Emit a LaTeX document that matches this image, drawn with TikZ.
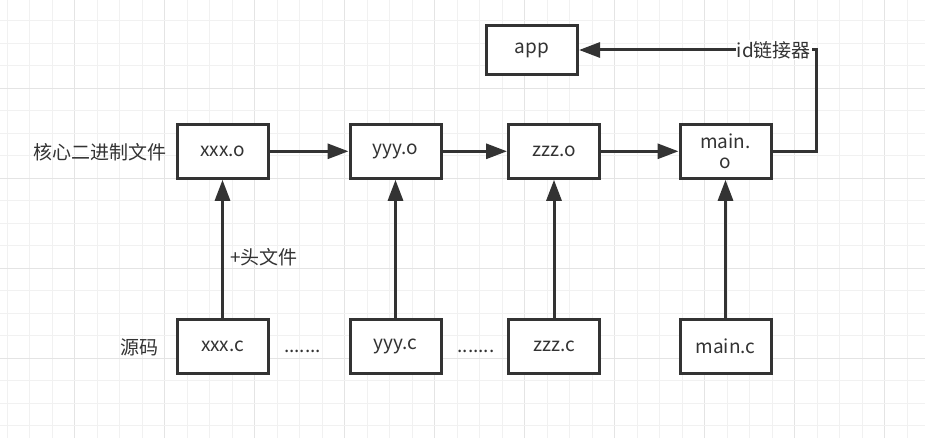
\documentclass[tikz,border=0pt]{standalone}
\usepackage{fontspec}
\setmainfont{Noto Sans CJK SC}
\usetikzlibrary{arrows.meta,positioning}
\definecolor{ink}{HTML}{333333}
\definecolor{gridminor}{HTML}{F1F1F1}
\definecolor{gridmajor}{HTML}{E4E4E4}

\begin{document}
\begin{tikzpicture}
[x=1pt,y=-1pt,>={Triangle[length=21pt,width=15pt]},
box/.style={draw=ink,fill=white,line width=3pt,minimum width=91pt,minimum height=54pt,inner sep=0pt,text=ink,align=center},
conn/.style={draw=ink,line width=3pt},
tag/.style={text=ink,inner sep=1pt},]

%Sizes
\def\fs{\fontsize{19pt}{22pt}\selectfont}
\def\rowo{151.3}
\def\rowc{346.3}

%Background grid
\useasboundingbox (0,0) rectangle (925,438);
\fill[white] (0,0) rectangle (925,438);
\foreach \k in {0,...,40} {
  \pgfmathsetmacro\gx{7.3+22.5*\k}
  \pgfmathtruncatemacro\m{mod(\k,4)}
  \ifnum\m=3 \draw[gridmajor,line width=1pt] (\gx,0) -- (\gx,438);
  \else \draw[gridminor,line width=1pt] (\gx,0) -- (\gx,438); \fi
}
\foreach \k in {0,...,18} {
  \pgfmathsetmacro\gy{20.8+22.5*\k}
  \pgfmathtruncatemacro\m{mod(\k,4)}
  \ifnum\m=3 \draw[gridmajor,line width=1pt] (0,\gy) -- (925,\gy);
  \else \draw[gridminor,line width=1pt] (0,\gy) -- (925,\gy); \fi
}

%Object files
\node[box,font=\fs] (xo) at (222.5,\rowo) {xxx.o};
\node[box,font=\fs] (yo) at (395.5,\rowo) {yyy.o};
\node[box,font=\fs] (zo) at (554,\rowo) {zzz.o};
\node[box,font=\fs] (mo) at (725.5,\rowo) {main.\\[-2pt]o};

%Source files
\node[box,font=\fs] (xc) at (222.5,\rowc) {xxx.c};
\node[box,font=\fs] (yc) at (395.5,\rowc) {yyy.c};
\node[box,font=\fs] (zc) at (554,\rowc) {zzz.c};
\node[box,font=\fs] (mc) at (725.5,\rowc) {main.c};

%Result
\node[box,font=\fs,minimum height=49pt] (app) at (532,50) {app};

%Row labels
\node[tag,font=\fs,anchor=east] (bin) at (168,152) {核心二进制文件};
\node[tag,font=\fs] (src) at (139.5,347) {源码};
\node[tag,font=\fs] (d1) at (302.5,351) {.......};
\node[tag,font=\fs] (d2) at (476,351) {.......};

%Compiling
\draw[conn,->] (xc) -- node[tag,font=\fs,right,pos=0.44,xshift=5pt] {+头文件} (xo);
\draw[conn,->] (yc) -- (yo);
\draw[conn,->] (zc) -- (zo);
\draw[conn,->] (mc) -- (mo);

%Chain of objects
\draw[conn,->] (xo) -- (yo);
\draw[conn,->] (yo) -- (zo);
\draw[conn,->] (zo) -- (mo);

%Linking
\coordinate (turn) at (816.7,\rowo);
\coordinate (top) at (816.7,50);
\draw[conn,->] (mo.east) -- (turn) -- (top) -- node[tag,font=\fs,fill=white,pos=0.18] {id链接器} (app.east);

\end{tikzpicture}
\end{document}
